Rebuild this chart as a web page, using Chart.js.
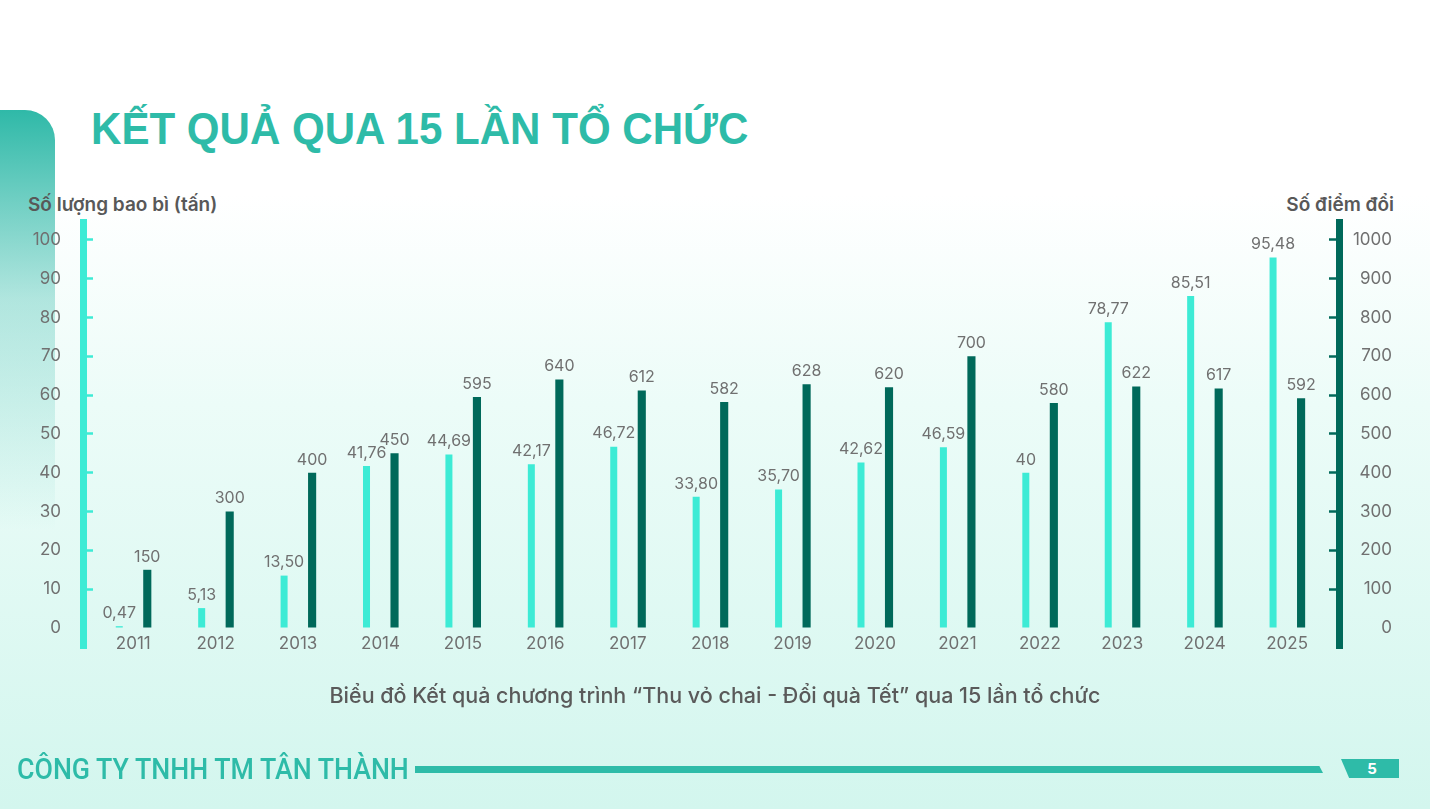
<!DOCTYPE html>
<html lang="vi">
<head>
<meta charset="utf-8">
<title>Kết quả qua 15 lần tổ chức</title>
<script src="https://cdn.jsdelivr.net/npm/chart.js@4.4.1/dist/chart.umd.min.js"></script>
<style>
  html, body { margin: 0; padding: 0; }
  body {
    width: 1430px; height: 809px; overflow: hidden; position: relative;
    background: linear-gradient(to bottom, #ffffff 0%, #ffffff 24%, #ecfcf8 50%, #d3f6ee 100%);
    font-family: Inter, "Noto Sans", sans-serif;
  }
  .deco {
    position: absolute; left: 0; top: 110px; width: 55px; height: 420px;
    border-top-right-radius: 30px;
    background: linear-gradient(to bottom, #2fb9a8 0%, rgba(47,185,168,0.35) 45%, rgba(47,185,168,0) 100%);
  }
  .title {
    position: absolute; left: 91px; top: 104px; margin: 0;
    font-family: "Liberation Sans", Arial, sans-serif; font-weight: 700;
    font-size: 44px; color: #2ebba8; white-space: nowrap;
    transform: scaleX(0.956); transform-origin: left center;
  }
  .axis-title {
    position: absolute; top: 193px; font-size: 19px; font-weight: 600;
    color: #585858; white-space: nowrap;
  }
  .subtitle {
    position: absolute; left: 0; width: 1430px; top: 682px; text-align: center;
    font-size: 21.5px; font-weight: 500; color: #5a5a5a; white-space: nowrap;
  }
  .company {
    position: absolute; left: 17px; top: 752px; font-family: Roboto, sans-serif;
    font-weight: 500; font-size: 29px; color: #2ebba8; white-space: nowrap;
    transform: scaleX(0.922); transform-origin: left center;
  }
  .rule {
    position: absolute; left: 415px; top: 766px; width: 908px; height: 7px;
    background: #2ebba8; clip-path: polygon(0 0, 99.6% 0, 100% 100%, 0 100%);
  }
  .page {
    position: absolute; left: 1341px; top: 759px; width: 58px; height: 19px;
    background: #2ebba8; clip-path: polygon(0 0, 100% 0, 100% 100%, 14% 100%);
    color: #fff; font-weight: 700; font-size: 15px; line-height: 19px;
    text-align: center; padding-left: 4px; box-sizing: border-box;
  }
  #chart { position: absolute; left: 0; top: 0; }
</style>
</head>
<body>
<div class="deco"></div>
<h1 class="title">KẾT QUẢ QUA 15 LẦN TỔ CHỨC</h1>
<div class="axis-title" style="left:28px;">Số lượng bao bì (tấn)</div>
<div class="axis-title" style="right:36px;">Số điểm đổi</div>
<canvas id="chart" width="1430" height="809"></canvas>
<div class="subtitle">Biểu đồ Kết quả chương trình “Thu vỏ chai - Đổi quà Tết” qua 15 lần tổ chức</div>
<div class="company">CÔNG TY TNHH TM TÂN THÀNH</div>
<div class="rule"></div>
<div class="page">5</div>

<script>
// years of the program
const years = [2011, 2012, 2013, 2014, 2015, 2016, 2017, 2018, 2019, 2020, 2021, 2022, 2023, 2024, 2025];

// amount of packaging collected (tons) - left axis
const tons = [0.47, 5.13, 13.50, 41.76, 44.69, 42.17, 46.72, 33.80, 35.70, 42.62, 46.59, 40, 78.77, 85.51, 95.48];

// number of exchange points - right axis
const points = [150, 300, 400, 450, 595, 640, 612, 582, 628, 620, 700, 580, 622, 617, 592];

// tick labels
const leftTicks = [0, 10, 20, 30, 40, 50, 60, 70, 80, 90, 100];
const rightTicks = [0, 100, 200, 300, 400, 500, 600, 700, 800, 900, 1000];

const CYAN = '#3debd5';
const DARK = '#00695a';
const GREY = '#707070';

function fmt(v) {
  if (Number.isInteger(v)) return String(v);
  return v.toFixed(2).replace('.', ',');
}

// draws the value above each bar
const valueLabels = {
  id: 'valueLabels',
  afterDatasetsDraw(chart) {
    const ctx = chart.ctx;
    ctx.save();
    ctx.font = '16px Inter, "Noto Sans", sans-serif';
    ctx.fillStyle = GREY;
    ctx.textAlign = 'center';
    ctx.textBaseline = 'bottom';
    chart.data.datasets.forEach((ds, di) => {
      const meta = chart.getDatasetMeta(di);
      meta.data.forEach((bar, i) => {
        ctx.fillText(fmt(ds.data[i].y), bar.x, bar.y - 5);
      });
    });
    ctx.restore();
  }
};

// no tick mark at zero, like the original
const tickCol = (col) => (ctx) => (ctx.tick && ctx.tick.value === 0 ? 'rgba(0,0,0,0)' : col);

const canvas = document.getElementById('chart');

new Chart(canvas, {
  type: 'bar',
  data: {
    datasets: [{
      label: 'Số lượng bao bì (tấn)',
      data: years.map((yr, i) => ({ x: yr, y: tons[i] })),
      backgroundColor: CYAN,
      yAxisID: 'yL',
      categoryPercentage: 0.68,
      barPercentage: 0.25
    }, {
      label: 'Số điểm đổi',
      data: years.map((yr, i) => ({ x: yr, y: points[i] })),
      backgroundColor: DARK,
      yAxisID: 'yR',
      categoryPercentage: 0.68,
      barPercentage: 0.29
    }]
  },
  options: {
    responsive: false,
    animation: false,
    layout: { padding: { top: 222, bottom: 161, left: 0, right: 38 } },
    plugins: {
      legend: { display: false },
      tooltip: { enabled: false }
    },
    scales: {
      x: {
        type: 'linear',
        position: { yL: 0 },
        offset: false,
        min: 2010.39,
        max: 2025.63,
        afterBuildTicks: (scale) => { scale.ticks = years.map(v => ({ value: v })); },
        grid: { display: false },
        border: { display: false },
        ticks: {
          padding: -2,
          color: GREY,
          font: { family: 'Inter', size: 17 },
          callback: (v) => String(v)
        }
      },
      yL: {
        position: 'left',
        min: -5.15,
        max: 104.6,
        afterBuildTicks: (scale) => { scale.ticks = leftTicks.map(v => ({ value: v })); },
        afterFit: (scale) => { scale.width = 83; },
        border: { display: true, color: CYAN, width: 7 },
        grid: { drawOnChartArea: false, tickLength: -10, tickColor: tickCol(CYAN), tickWidth: 2.5 },
        ticks: { padding: 32, color: GREY, font: { family: 'Inter', size: 17 } }
      },
      yR: {
        position: 'right',
        min: -51.5,
        max: 1046,
        afterBuildTicks: (scale) => { scale.ticks = rightTicks.map(v => ({ value: v })); },
        afterFit: (scale) => { scale.width = 53; },
        border: { display: true, color: DARK, width: 7 },
        grid: { drawOnChartArea: false, tickLength: -10, tickColor: tickCol(DARK), tickWidth: 2.5 },
        ticks: {
          padding: 19, crossAlign: 'far', color: GREY,
          font: { family: 'Inter', size: 17 },
          callback: (v) => String(v)
        }
      }
    }
  },
  plugins: [valueLabels]
});
</script>
</body>
</html>
